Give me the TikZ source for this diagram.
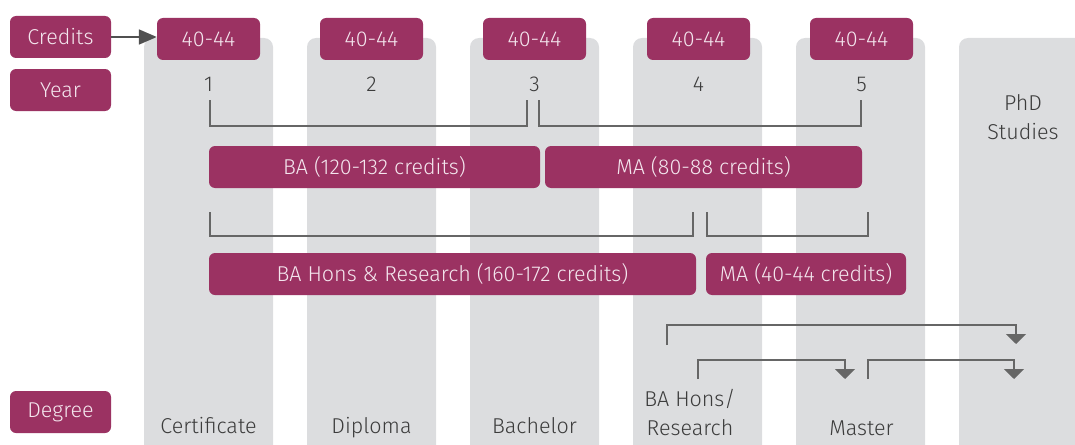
\documentclass[tikz,border=0pt]{standalone}
\usepackage{fontspec}
\setmainfont{Fira Sans Light}
\usetikzlibrary{arrows.meta}
\definecolor{plum}{HTML}{9B3262}
\definecolor{colgray}{HTML}{DCDDDF}
\definecolor{txtgray}{HTML}{3C3C3C}
\definecolor{linegray}{HTML}{666666}
\definecolor{boxtxt}{HTML}{F4E6EE}
\tikzset{
  pbox/.style={fill=plum, rounded corners=6pt, text=boxtxt, font=\fontsize{21.5}{28}\selectfont, minimum height=42pt, inner sep=0pt, anchor=center},
  col/.style={fill=colgray, rounded corners=9pt},
  lbl/.style={text=txtgray, font=\fontsize{21.5}{29}\selectfont, inner sep=0pt, align=center},
  brk/.style={draw=linegray, line width=1.3pt},
  darr/.style={draw=linegray, line width=1.5pt, -{Triangle[width=20pt,length=10pt]}}
}
\begin{document}
\begin{tikzpicture}[x=1pt,y=-1pt]
\path[use as bounding box] (0,0) rectangle (1075,444);
\clip (0,0) rectangle (1075,444);
% columns
\foreach \xa/\n in {144/c1,307/c2,470/c3,633/c4,796/c5}{
  \path[col] (\xa,38) rectangle ++(129,430);
}
\path[col] (959,38) rectangle (1100,470);
% left labels
\node[pbox, minimum width=101pt] (credits) at (60.5,37) {Credits};
\node[pbox, minimum width=101pt] (year) at (60.5,90) {Year};
\node[pbox, minimum width=101pt] (degree) at (60.5,412) {Degree};
% credit boxes
\foreach \x/\i in {208.5/1,371.5/2,534.5/3,698.5/4,861.5/5}{
  \node[pbox, minimum width=103pt] (cr\i) at (\x,39) {40-44};
  \node[lbl, anchor=base] (y\i) at (\x,91) {\i};
}
\draw[line width=1.8pt, draw=txtgray!90, -{Triangle[width=15pt,length=18pt]}] (credits.east) -- (credits.east -| cr1.west);
% brackets
\coordinate (b1a) at (210,100); \coordinate (b1b) at (527,100);
\draw[brk] (b1a) -- ++(0,26) -| (b1b);
\coordinate (b2a) at (539,100); \coordinate (b2b) at (861,100);
\draw[brk] (b2a) -- ++(0,26) -| (b2b);
\node[pbox, minimum width=331pt] (ba) at (374.5,167) {BA (120-132 credits)};
\node[pbox, minimum width=317pt] (ma) at (703.5,167) {MA (80-88 credits)};
\coordinate (b3a) at (210,212); \coordinate (b3b) at (693,212);
\draw[brk] (b3a) -- ++(0,24) -| (b3b);
\coordinate (b4a) at (707,212); \coordinate (b4b) at (868,212);
\draw[brk] (b4a) -- ++(0,24) -| (b4b);
\node[pbox, minimum width=487pt] (bahons) at (452.5,274) {BA Hons \& Research (160-172 credits)};
\node[pbox, minimum width=200pt] (ma2) at (806,274) {MA (40-44 credits)};
% lower arrows
\coordinate (a1s) at (667,345); \coordinate (a1e) at (1016,344);
\draw[darr] (a1s) -- (667,325) -| (a1e);
\coordinate (a2s) at (698,379); \coordinate (a2e) at (845,379);
\draw[darr] (a2s) -- (698,360) -| (a2e);
\coordinate (a3s) at (868,379); \coordinate (a3e) at (1014,379);
\draw[darr] (a3s) -- (868,360) -| (a3e);
% degree labels
\node[lbl, anchor=base] (d1) at (208.5,433) {Certificate};
\node[lbl, anchor=base] (d2) at (371.5,433) {Diploma};
\node[lbl, anchor=base] (d3) at (534.5,433) {Bachelor};
\node[lbl, anchor=base] (d4) at (690,435) {BA Hons/\\Research};
\node[lbl, anchor=base] (d5) at (861.5,435) {Master};
\node[lbl, anchor=base] (phd) at (1023,139) {PhD\\Studies};
\end{tikzpicture}
\end{document}
